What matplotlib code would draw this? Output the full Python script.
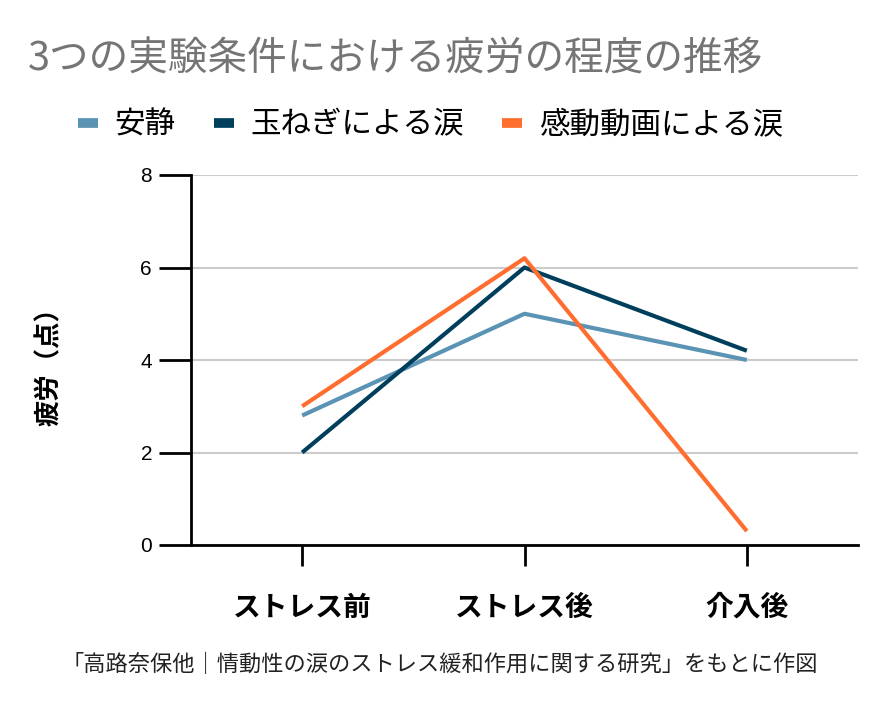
"""3つの実験条件における疲労の程度の推移"""
import matplotlib
matplotlib.use("Agg")
import matplotlib.pyplot as plt
from matplotlib.lines import Line2D

plt.rcParams["font.family"] = ["Noto Sans CJK JP", "DejaVu Sans"]

phases = ["ストレス前", "ストレス後", "介入後"]
rest = [2.8, 5.0, 4.0]
onion = [2.0, 6.0, 4.2]
movie = [3.0, 6.2, 0.3]
series_names = ["安静", "玉ねぎによる涙", "感動動画による涙"]
colors = ["#5a93b3", "#003f5c", "#ff6e2f"]

fig = plt.figure(figsize=(8.94, 7.04), dpi=100)
ax = fig.add_axes([191 / 894, 1 - 545 / 704, 667 / 894, 370 / 704])

x = range(len(phases))
for vals, name, c in zip([rest, onion, movie], series_names, colors):
    ax.plot(x, vals, color=c, lw=3, label=name, solid_capstyle="butt")

ax.set_xlim(-0.5, 2.5)
ax.set_ylim(0, 8)
ax.set_yticks([0, 2, 4, 6, 8])
ax.set_xticks(list(x))
ax.set_xticklabels(phases, fontsize=20, fontweight="bold")
ax.tick_params(axis="y", length=23, width=2, pad=5, labelsize=15,
               labelfontfamily="Liberation Sans")
ax.tick_params(axis="x", length=15, width=2, pad=20)
ax.yaxis.grid(True, color="#cccccc", lw=1.5)
ax.set_axisbelow(True)
for s in ["top", "right"]:
    ax.spines[s].set_visible(False)
for s in ["left", "bottom"]:
    ax.spines[s].set_linewidth(2)
ax.set_ylabel("疲労（点）", fontsize=19, fontweight="bold", labelpad=56)

fig.text(28 / 894, 1 - 60 / 704, "3つの実験条件における疲労の程度の推移",
         fontsize=28.5, color="#757575", va="center", ha="left")

handles = [Line2D([], [], color=c, lw=7, solid_capstyle="butt") for c in colors]
fig.legend(handles, series_names, loc="center left",
           bbox_to_anchor=(78 / 894, 1 - 125 / 704), ncol=3, frameon=False,
           fontsize=22, handlelength=0.65, handletextpad=0.55,
           columnspacing=1.25, borderaxespad=0, borderpad=0)

fig.text(440 / 894, 1 - 665 / 704,
         "「高路奈保他｜情動性の涙のストレス緩和作用に関する研究」をもとに作図",
         fontsize=16, ha="center", va="center", color="#222222")

fig.savefig("out.png", dpi=100)
